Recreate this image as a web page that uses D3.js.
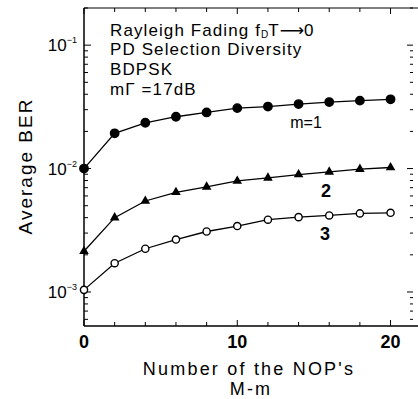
<!DOCTYPE html>
<html>
<head>
<meta charset="utf-8">
<script src="https://cdn.jsdelivr.net/npm/d3@7"></script>
<style>
  body { margin: 0; background: #fff; }
  text { font-family: "Liberation Sans", Arial, sans-serif; fill: #000; }
  .tick-label { font-family: "Liberation Sans Narrow", "Liberation Sans", sans-serif; }
</style>
</head>
<body>
<div id="chart"></div>
<script>
// data
const nop = [0, 2, 4, 6, 8, 10, 12, 14, 16, 18, 20];
const berM1 = [0.0100, 0.0193, 0.0235, 0.0263, 0.0285, 0.0309, 0.0318, 0.0333, 0.0346, 0.0355, 0.0364];
const berM2 = [0.00214, 0.0040, 0.00546, 0.00642, 0.0071, 0.00794, 0.0084, 0.00894, 0.0094, 0.0099, 0.0102];
const berM3 = [0.00104, 0.00171, 0.00224, 0.00266, 0.00309, 0.00342, 0.00385, 0.00404, 0.00417, 0.00433, 0.00438];
const xTicks = [0, 10, 20];
const yTicks = [1e-1, 1e-2, 1e-3];
const yTickExp = ['\u22121', '\u22122', '\u22123'];
const infoLines = ['PD Selection Diversity', 'BDPSK', 'm\u0393 =17dB'];

const width = 418, height = 399;
const pLeft = 84, pRight = 412, pTop = 8, pBottom = 326;

const x = d3.scaleLinear().domain([0, 21.4]).range([pLeft, pRight]);
const y = d3.scaleLog().domain([5.3e-4, 0.2]).range([pBottom, pTop]);

const svg = d3.select('#chart').append('svg')
  .attr('width', width).attr('height', height);

// frame: left, top, bottom lines (right side only has tick marks)
svg.append('line').attr('x1', pLeft).attr('x2', pLeft).attr('y1', pTop).attr('y2', pBottom)
  .attr('stroke', '#000').attr('stroke-width', 1.5);
svg.append('line').attr('x1', pLeft).attr('x2', width).attr('y1', pTop).attr('y2', pTop)
  .attr('stroke', '#000').attr('stroke-width', 1.2);
svg.append('line').attr('x1', pLeft).attr('x2', width).attr('y1', pBottom).attr('y2', pBottom)
  .attr('stroke', '#000').attr('stroke-width', 1.5);

// x ticks (inward) on bottom and top
const xAll = d3.range(0, 21, 2);
xAll.forEach(v => {
  const len = v % 10 === 0 ? 6 : 4;
  svg.append('line').attr('x1', x(v)).attr('x2', x(v)).attr('y1', pBottom).attr('y2', pBottom - len)
    .attr('stroke', '#000').attr('stroke-width', 1);
  svg.append('line').attr('x1', x(v)).attr('x2', x(v)).attr('y1', pTop).attr('y2', pTop + len)
    .attr('stroke', '#000').attr('stroke-width', 1);
});
svg.selectAll('.xl').data(xTicks).enter().append('text')
  .attr('class', 'tick-label')
  .attr('x', d => x(d)).attr('y', pBottom + 22)
  .attr('text-anchor', 'middle').attr('font-size', 18).attr('font-weight', 'bold')
  .text(d => d);

// y log ticks (inward) on left, short marks on right
const yMinor = [];
[-4, -3, -2, -1].forEach(e => {
  for (let k = 1; k < 10; k++) {
    const v = k * Math.pow(10, e);
    if (v >= 5.3e-4 && v <= 0.2) yMinor.push({ v, major: k === 1 });
  }
});
yMinor.forEach(t => {
  svg.append('line').attr('x1', pLeft).attr('x2', pLeft + (t.major ? 7 : 4))
    .attr('y1', y(t.v)).attr('y2', y(t.v)).attr('stroke', '#000').attr('stroke-width', 1);
  svg.append('line').attr('x1', pRight - (t.major ? 5 : 2)).attr('x2', pRight + 1)
    .attr('y1', y(t.v)).attr('y2', y(t.v)).attr('stroke', '#000').attr('stroke-width', 1);
});
const yl = svg.selectAll('.yl').data(yTicks).enter().append('text')
  .attr('class', 'tick-label')
  .attr('x', pLeft - 7).attr('y', d => y(d) + 6)
  .attr('text-anchor', 'end');
yl.append('tspan').attr('font-size', 17).text('10');
yl.append('tspan').attr('font-size', 9).attr('dy', -8).text((d, i) => yTickExp[i]);

// series
const line = d3.line().x(d => x(d[0])).y(d => y(d[1]));
const series = [
  { vals: berM1, mark: 'dot' },
  { vals: berM2, mark: 'tri' },
  { vals: berM3, mark: 'ring' }
];
series.forEach(s => {
  const pts = nop.map((n, i) => [n, s.vals[i]]);
  svg.append('path').datum(pts).attr('d', line)
    .attr('fill', 'none').attr('stroke', '#000').attr('stroke-width', 1.3);
  const g = svg.append('g');
  if (s.mark === 'tri') {
    g.selectAll('path').data(pts).enter().append('path')
      .attr('d', d3.symbol(d3.symbolTriangle, 40))
      .attr('transform', d => `translate(${x(d[0])},${y(d[1])})`)
      .attr('fill', '#000');
  } else {
    g.selectAll('circle').data(pts).enter().append('circle')
      .attr('cx', d => x(d[0])).attr('cy', d => y(d[1]))
      .attr('r', s.mark === 'dot' ? 4.2 : 3.6)
      .attr('fill', s.mark === 'dot' ? '#000' : '#fff')
      .attr('stroke', '#000').attr('stroke-width', 1.4);
  }
});

// curve labels
svg.append('text').attr('x', 306).attr('y', 128).attr('text-anchor', 'middle')
  .attr('font-size', 16).text('m=1');
svg.append('text').attr('class', 'tick-label').attr('x', 326).attr('y', 197).attr('text-anchor', 'middle')
  .attr('font-size', 18).attr('font-weight', 'bold').text('2');
svg.append('text').attr('class', 'tick-label').attr('x', 325).attr('y', 240).attr('text-anchor', 'middle')
  .attr('font-size', 18).attr('font-weight', 'bold').text('3');

// info block
const head = svg.append('text').attr('x', 110).attr('y', 36)
  .attr('font-size', 17).attr('letter-spacing', 1.1);
head.append('tspan').text('Rayleigh Fading f');
head.append('tspan').attr('font-size', 10).attr('dy', 2).attr('letter-spacing', 0).text('D');
head.append('tspan').attr('dy', -2).text('T');
head.append('tspan').attr('font-family', 'DejaVu Sans').attr('letter-spacing', 0).text('\u27F6');
head.append('tspan').text('0');
svg.selectAll('.info').data(infoLines).enter().append('text')
  .attr('x', 110).attr('y', (d, i) => [55, 75, 95][i])
  .attr('font-size', 17).attr('letter-spacing', 1.1)
  .text(d => d);

// axis titles
svg.append('text').attr('x', 249).attr('y', 375).attr('text-anchor', 'middle')
  .attr('font-size', 18).attr('letter-spacing', 2.2).text("Number of the NOP's");
svg.append('text').attr('x', 251).attr('y', 395).attr('text-anchor', 'middle')
  .attr('font-size', 18).attr('letter-spacing', 2.2).text('M-m');
svg.append('text').attr('transform', 'translate(32,166) rotate(-90)')
  .attr('text-anchor', 'middle').attr('font-size', 19).attr('letter-spacing', 2)
  .text('Average BER');
</script>
</body>
</html>
